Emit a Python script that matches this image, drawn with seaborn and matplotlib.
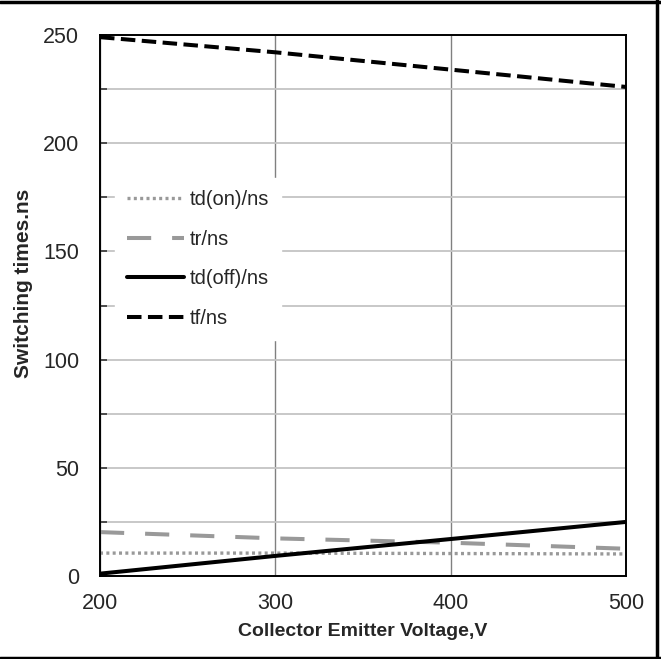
import numpy as np
import pandas as pd
import matplotlib
matplotlib.use("Agg")
import matplotlib.pyplot as plt
import seaborn as sns
from matplotlib.ticker import MultipleLocator
from matplotlib.lines import Line2D

voltage = [200, 300, 400, 500]
td_on = [10.6, 10.6, 10.4, 10.2]
tr = [20.3, 17.4, 15.4, 12.6]
td_off = [1.1, 9.3, 17.1, 25.0]
tf = [249, 242, 234, 226]

series_names = ["td(on)/ns", "tr/ns", "td(off)/ns", "tf/ns"]
series_vals = [td_on, tr, td_off, tf]

sns.set_theme(style="white")
plt.rcParams["font.family"] = ["Liberation Sans Narrow", "Liberation Sans", "DejaVu Sans"]

fig = plt.figure(figsize=(6.61, 6.59), dpi=100)
ax = fig.add_axes([0.1513, 0.1259, 0.7958, 0.8210])

# line styles per series
styles = {
    "td(on)/ns": dict(color="#999999", lw=2.4, ls=(0, (0.9, 1.0))),
    "tr/ns": dict(color="#999999", lw=2.9, ls=(0, (6.0, 5.2))),
    "td(off)/ns": dict(color="black", lw=2.9, ls="-"),
    "tf/ns": dict(color="black", lw=2.9, ls=(0, (3.6, 1.6))),
}

df = pd.DataFrame({"voltage": voltage})
for name, vals in zip(series_names, series_vals):
    df[name] = vals

for name in series_names:
    st = styles[name]
    sns.lineplot(data=df, x="voltage", y=name, ax=ax, color=st["color"],
                 linewidth=st["lw"], linestyle=st["ls"], label=name,
                 legend=False, zorder=3)
    ax.lines[-1].set_dash_capstyle("butt")

ax.set_xlim(200, 500)
ax.set_ylim(0, 250)
ax.xaxis.set_major_locator(MultipleLocator(100))
ax.yaxis.set_major_locator(MultipleLocator(50))
ax.yaxis.set_minor_locator(MultipleLocator(25))

# grid: light horizontal every 25, darker vertical at 100 steps
ax.yaxis.grid(True, which="both", color="#c4c4c4", lw=1.3, zorder=0)
ax.xaxis.grid(True, which="major", color="#808080", lw=1.0, zorder=0)

for sp in ax.spines.values():
    sp.set_color("black")
    sp.set_linewidth(1.4)
    sp.set_zorder(4)

ax.tick_params(axis="y", which="both", direction="in", left=True, length=5,
               width=1.2, color="#333333", labelsize=15.5, pad=15)
ax.tick_params(axis="x", which="both", direction="in", bottom=False,
               labelsize=15.5, pad=12)
ax.set_xlabel("")
ax.set_ylabel("")

fig.text(0.548, 1 - 631 / 659, "Collector Emitter Voltage,V", ha="center",
         va="center", fontsize=14, fontweight="bold")
fig.text(24 / 661, 1 - 283 / 659, "Switching times.ns", ha="center",
         va="center", rotation=90, fontsize=15, fontweight="bold")

handles = [Line2D([], [], color=styles[n]["color"], lw=styles[n]["lw"],
                  ls=styles[n]["ls"], dash_capstyle="butt") for n in series_names]
leg = ax.legend(handles, series_names, loc="upper left",
                bbox_to_anchor=(15 / 525, (576 - 178) / 541), frameon=True,
                fancybox=False, edgecolor="white", framealpha=1,
                fontsize=14.5, handlelength=2.8, handletextpad=0.3,
                labelspacing=1.02, borderpad=0.6, borderaxespad=0)
leg.set_zorder(5)

# outer frame of the picture (top, right, bottom)
fig.add_artist(Line2D([0, 1], [1 - 1.5 / 659, 1 - 1.5 / 659], color="black",
                      lw=2.5, transform=fig.transFigure))
fig.add_artist(Line2D([1 - 4.5 / 661, 1 - 4.5 / 661], [0, 1], color="black",
                      lw=2.5, transform=fig.transFigure))
fig.add_artist(Line2D([0, 1], [1.5 / 659, 1.5 / 659], color="black",
                      lw=2.5, transform=fig.transFigure))

fig.savefig("out.png", dpi=100)
